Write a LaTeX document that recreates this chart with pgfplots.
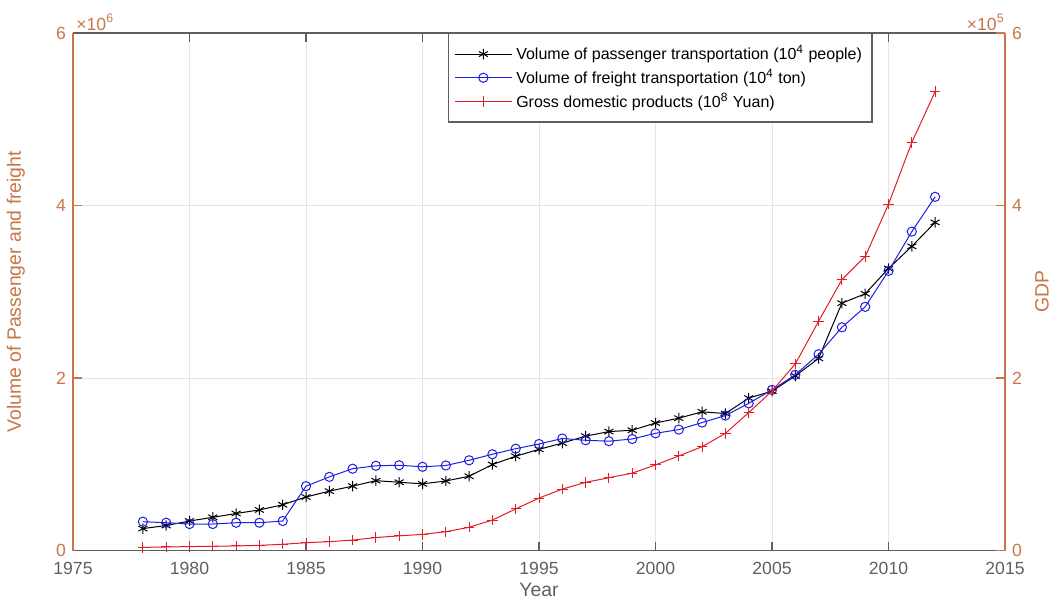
\documentclass[border=0pt]{standalone}
\usepackage{pgfplots}
\usepackage{pgfplotstable}
\pgfplotsset{compat=1.18}
\usepackage{fontspec}
\setmainfont{Liberation Sans}

\definecolor{axorange}{RGB}{200,118,72}
\definecolor{axgray}{RGB}{95,95,95}
\definecolor{gridgray}{RGB}{228,228,228}
\definecolor{pblue}{RGB}{30,30,225}
\definecolor{pred}{RGB}{228,28,36}

% Passenger volume (10^4 people) and freight volume (10^4 ton)
\pgfplotstableread{
year passenger freight
1978 253993 334000
1979 289665 322000
1980 341785 307000
1981 384763 307000
1982 428964 322000
1983 470614 322000
1984 530217 342000
1985 620206 745763
1986 688212 853557
1987 746422 948229
1988 809592 982195
1989 791376 988435
1990 772682 970602
1991 806048 985793
1992 860855 1045899
1993 996634 1115902
1994 1092882 1180396
1995 1172596 1234938
1996 1245356 1298421
1997 1326094 1278218
1998 1378717 1267427
1999 1394413 1293008
2000 1478573 1358682
2001 1534122 1401786
2002 1608150 1483447
2003 1587497 1564492
2004 1767453 1706412
2005 1847018 1862066
2006 2024158 2037060
2007 2227761 2275822
2008 2867892 2587413
2009 2976898 2825222
2010 3269508 3241807
2011 3526319 3696961
2012 3804035 4100436
}\transport

% Gross domestic product (10^8 Yuan)
\pgfplotstableread{
year gdp
1978 3645
1979 4063
1980 4546
1981 4892
1982 5323
1983 5963
1984 7208
1985 9016
1986 10275
1987 12059
1988 15043
1989 16992
1990 18668
1991 21782
1992 26924
1993 35334
1994 48198
1995 60794
1996 71177
1997 78973
1998 84402
1999 89677
2000 99215
2001 109655
2002 120333
2003 135823
2004 159878
2005 184937
2006 216314
2007 265810
2008 314045
2009 340903
2010 401513
2011 473104
2012 532000
}\gdptab

\pgfplotsset{
  common/.style={
    scale only axis,
    width=466pt, height=258.75pt,
    xmin=1975, xmax=2015,
    xtick={1975,1980,...,2015},
    major tick length=4.5pt,
    tick align=inside,
    clip mode=individual,
    tick label style={font=\fontsize{8.8}{10}\selectfont},
    label style={font=\fontsize{9.7}{11}\selectfont},
    /pgf/number format/assume math mode=true,
    /pgf/number format/1000 sep={},
    scaled y ticks=false,
  },
}

\begin{document}
\begin{tikzpicture}
\begin{axis}[
  common,
  axis y line*=left,
  axis x line*=box,
  ymin=0, ymax=6e6,
  ytick={0,2e6,4e6,6e6},
  yticklabels={0,2,4,6},
  xmajorgrids, ymajorgrids,
  major grid style={gridgray, line width=0.5pt},
  x axis line style={draw=axgray, line width=0.6pt},
  y axis line style={draw=axorange, line width=0.6pt},
  xtick style={draw=axgray, line width=0.6pt},
  ytick style={draw=axorange, line width=0.6pt},
  xticklabel style={text=axgray, yshift=-2.5pt},
  yticklabel style={text=axorange},
  xlabel={Year},
  xlabel style={text=axgray, at={(axis description cs:0.5,-0.0763)}, anchor=center},
  ylabel={Volume of Passenger and freight},
  ylabel style={text=axorange, at={(axis description cs:-0.0612,0.5)}, anchor=center, rotate=0},
]
\addplot[black, line width=0.5pt, mark=asterisk, mark size=2.6pt] table[x=year, y=passenger] {\transport};
\addplot[pblue, line width=0.5pt, mark=o, mark size=2.3pt] table[x=year, y=freight] {\transport};
\node[anchor=south west, inner sep=0pt, text=axorange, font=\fontsize{8.8}{10}\selectfont, xshift=1.5pt, yshift=1pt]
  at (rel axis cs:0,1) {×10\textsuperscript{6}};
\coordinate (bl) at (rel axis cs:0,0);
\coordinate (tr) at (rel axis cs:1,1);
\end{axis}

\begin{axis}[
  common,
  axis y line*=right,
  axis x line=none,
  ymin=0, ymax=6e5,
  ytick={0,2e5,4e5,6e5},
  yticklabels={0,2,4,6},
  y axis line style={draw=axorange, line width=0.6pt},
  ytick style={draw=axorange, line width=0.6pt},
  yticklabel style={text=axorange},
  ylabel={GDP},
  ylabel style={text=axorange, at={(axis description cs:1.0397,0.5)}, anchor=center, rotate=0},
  legend style={
    at={(rel axis cs:0.63,1)}, anchor=north,
    draw=axgray, fill=white, line width=0.6pt,
    font=\fontsize{8}{9.5}\selectfont,
    cells={anchor=west},
    row sep=-0.6pt,
    inner xsep=3pt, inner ysep=4pt,
  },
  legend image code/.code={
    \draw[mark repeat=2, mark phase=2] plot coordinates {(0cm,0cm) (0.5cm,0cm) (1.0cm,0cm)};
  },
]
\addlegendimage{black, line width=0.5pt, mark=asterisk, mark size=2.6pt}
\addlegendentry{Volume of passenger transportation (10\textsuperscript{4} people)}
\addlegendimage{pblue, line width=0.5pt, mark=o, mark size=2.3pt}
\addlegendentry{Volume of freight transportation (10\textsuperscript{4} ton)}
\addplot[pred, line width=0.5pt, mark=+, mark size=2.6pt] table[x=year, y=gdp] {\gdptab};
\addlegendentry{Gross domestic products (10\textsuperscript{8} Yuan)}
\node[anchor=south east, inner sep=0pt, text=axorange, font=\fontsize{8.8}{10}\selectfont, yshift=1pt]
  at (rel axis cs:1,1) {×10\textsuperscript{5}};
\end{axis}

\pgfresetboundingbox
\path[use as bounding box] ([xshift=-36.5pt, yshift=-27.25pt]bl) rectangle ([xshift=24pt, yshift=16.5pt]tr);
\end{tikzpicture}
\end{document}
